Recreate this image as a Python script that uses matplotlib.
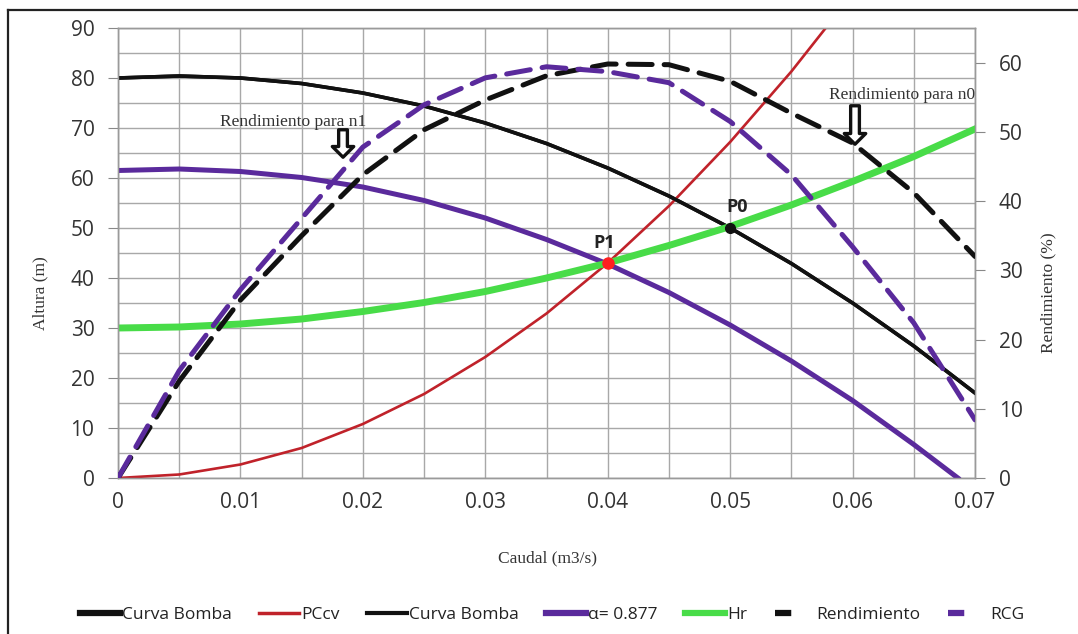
import matplotlib
matplotlib.use("Agg")
import matplotlib.pyplot as plt
from matplotlib.lines import Line2D

# ---------------- data ----------------
caudal = [0.0, 0.005, 0.01, 0.015, 0.02, 0.025, 0.03, 0.035, 0.04, 0.045,
          0.05, 0.055, 0.06, 0.065, 0.07]
curva_bomba = [80.0, 80.4, 80.0, 78.9, 77.0, 74.4, 71.0, 66.9, 62.0, 56.4,
               50.0, 42.9, 35.0, 26.4, 17.0]
caudal_pccv = [0.0, 0.005, 0.01, 0.015, 0.02, 0.025, 0.03, 0.035, 0.04, 0.045,
               0.05, 0.055, 0.06]
pccv = [0.0, 0.7, 2.7, 6.0, 10.8, 16.8, 24.2, 32.9, 43.0, 54.4, 67.2, 81.3, 96.8]
caudal_alfa = [0.0, 0.005, 0.01, 0.015, 0.02, 0.025, 0.03, 0.035, 0.04, 0.045,
               0.05, 0.055, 0.06, 0.065, 0.0686]
alfa = [61.5, 61.8, 61.3, 60.1, 58.2, 55.5, 52.0, 47.7, 42.8, 37.1,
        30.6, 23.4, 15.5, 6.7, 0.0]
hr = [30.0, 30.2, 30.8, 31.8, 33.3, 35.1, 37.3, 40.0, 43.0, 46.5,
      50.3, 54.6, 59.3, 64.3, 69.8]
rendimiento = [0.0, 14.0, 25.7, 35.0, 43.8, 50.3, 54.6, 58.1, 59.8, 59.7,
               57.3, 52.7, 48.4, 41.2, 32.0]
rcg = [0.0, 15.5, 27.2, 37.5, 47.8, 53.9, 57.8, 59.4, 58.7, 57.1,
       51.5, 43.8, 33.4, 22.4, 8.4]
p1 = (0.04, 43.0)
p0 = (0.05, 50.0)

legend_labels = ["Curva Bomba", "PCcv", "Curva Bomba", "\u03b1= 0.877", "Hr",
                 "Rendimiento", "RCG"]
x_ticks = [0, 0.01, 0.02, 0.03, 0.04, 0.05, 0.06, 0.07]
x_tick_labels = ["0", "0.01", "0.02", "0.03", "0.04", "0.05", "0.06", "0.07"]

# ---------------- style ----------------
BLACK = "#111111"
RED = "#c0222a"
PURPLE = "#5a2a9c"
GREEN = "#48dc48"
GRID = "#a8a8a8"
TICKFONT = "Open Sans"
SERIF = "Liberation Serif"

W, H = 1078, 634
fig = plt.figure(figsize=(W / 100, H / 100), dpi=100)
ax = fig.add_axes([118 / W, 1 - 478 / H, (975 - 118) / W, (478 - 28) / H])
ax2 = ax.twinx()

# primary series
l1, = ax.plot(caudal, curva_bomba, color=BLACK, lw=2.6, zorder=3)
l2, = ax.plot(caudal_pccv, pccv, color=RED, lw=1.9, zorder=3)
l3, = ax.plot(caudal, curva_bomba, color=BLACK, lw=2.6, zorder=3)
l4, = ax.plot(caudal_alfa, alfa, color=PURPLE, lw=3.6, zorder=3)
l5, = ax.plot(caudal, hr, color=GREEN, lw=5.0, zorder=3)

# points
ax.plot([p1[0]], [p1[1]], "o", color="#ff2020", ms=8, zorder=5)
ax.plot([p0[0]], [p0[1]], "o", color=BLACK, ms=7, zorder=5)
ax.text(p1[0] - 0.0003, p1[1] + 2.3, "P1", fontsize=13, fontweight="bold",
        family=TICKFONT, ha="center", va="bottom", color="#222222", zorder=6)
ax.text(p0[0] + 0.0006, p0[1] + 2.3, "P0", fontsize=13, fontweight="bold",
        family=TICKFONT, ha="center", va="bottom", color="#222222", zorder=6)

# secondary series
l6, = ax2.plot(caudal, rendimiento, color=BLACK, lw=3.6, dashes=(4.8, 2.4),
               dash_capstyle="round", zorder=3)
l7, = ax2.plot(caudal, rcg, color=PURPLE, lw=3.6, dashes=(4.8, 2.4),
               dash_capstyle="round", zorder=3)

# axes limits / ticks
ax.set_xlim(0, 0.07)
ax.set_ylim(0, 90)
ax2.set_ylim(0, 65)
ax.set_xticks(x_ticks)
ax.set_xticklabels(x_tick_labels)
ax.set_yticks(range(0, 91, 10))
ax2.set_yticks(range(0, 61, 10))
ax.set_xticks([i * 0.005 for i in range(15)], minor=True)
ax.set_yticks(range(5, 90, 10), minor=True)

ax.grid(True, which="both", color=GRID, lw=1.0)
ax.set_axisbelow(True)

for a in (ax, ax2):
    for s in a.spines.values():
        s.set_color("#9a9a9a")
        s.set_linewidth(1.0)
ax.tick_params(axis="y", which="major", length=7, color="#888888", direction="out",
               labelsize=15, labelcolor="#333333", pad=10)
ax.tick_params(axis="x", which="major", length=0, labelsize=15, labelcolor="#333333", pad=10)
ax.tick_params(which="minor", length=0)
ax2.tick_params(axis="y", length=7, color="#888888", direction="out",
                labelsize=15, labelcolor="#333333", pad=10)
for lab in ax.get_xticklabels() + ax.get_yticklabels() + ax2.get_yticklabels():
    lab.set_family(TICKFONT)

# axis labels
fig.text(40 / W, 1 - 293 / H, "Altura (m)", rotation=90, family=SERIF, fontsize=12.5,
         ha="center", va="center", color="#333333")
fig.text(1048 / W, 1 - 293 / H, "Rendimiento (%)", rotation=90, family=SERIF,
         fontsize=12.5, ha="center", va="center", color="#333333")
fig.text(548 / W, 1 - 558 / H, "Caudal (m3/s)", family=SERIF, fontsize=12.5,
         ha="center", va="center", color="#333333")

# annotations with hollow arrows
arrow_kw = dict(arrowstyle="simple,head_length=0.55,head_width=1.1,tail_width=0.45",
                fc="white", ec=BLACK, lw=2.4, mutation_scale=14)
ax.annotate("", xy=(0.01838, 63.6), xytext=(0.01838, 70.2), arrowprops=arrow_kw, zorder=7)
ax.annotate("", xy=(0.0602, 66.2), xytext=(0.0602, 75.0), arrowprops=arrow_kw, zorder=7)
ax.text(0.01429, 71.1, "Rendimiento para n1", family=SERIF, fontsize=12.5,
        ha="center", va="center", color="#333333", zorder=7)
ax.text(0.06404, 76.6, "Rendimiento para n0", family=SERIF, fontsize=12.5,
        ha="center", va="center", color="#333333", zorder=7)

# legend
handles = [
    Line2D([], [], color=BLACK, lw=4.5),
    Line2D([], [], color=RED, lw=2.5),
    Line2D([], [], color=BLACK, lw=3.0),
    Line2D([], [], color=PURPLE, lw=4.5),
    Line2D([], [], color=GREEN, lw=4.5),
    Line2D([], [], color=BLACK, lw=4.5, dashes=(2.6, 10)),
    Line2D([], [], color=PURPLE, lw=4.5, dashes=(2.6, 10)),
]
leg = fig.legend(handles, legend_labels, loc="center", bbox_to_anchor=(552 / W, 1 - 615 / H),
                 ncol=7, frameon=False, handlelength=2.3, handletextpad=0.1,
                 columnspacing=1.6, prop={"family": "Open Sans", "size": 12.5})
for t in leg.get_texts():
    t.set_color("#222222")

# outer frame of the figure
fig.add_artist(Line2D([8 / W, 8 / W], [0, 1 - 10 / H], color="#222222", lw=1.6,
                      transform=fig.transFigure))
fig.add_artist(Line2D([8 / W, 1], [1 - 10 / H, 1 - 10 / H], color="#222222", lw=1.6,
                      transform=fig.transFigure))

fig.savefig("out.png", dpi=100)
